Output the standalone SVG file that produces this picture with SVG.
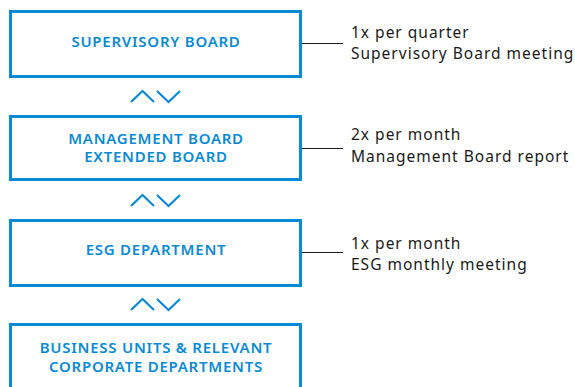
<svg xmlns="http://www.w3.org/2000/svg" width="575" height="387" viewBox="0 0 575 387">
  <style>
    .box { fill: #ffffff; stroke: #0a8ad3; stroke-width: 3; }
    .title { font-family: "Noto Sans", "Liberation Sans", sans-serif; font-size: 15px; font-weight: 600; letter-spacing: 0.75px; fill: #0a8ad3; text-anchor: middle; }
    .note { font-family: "Noto Sans", "Liberation Sans", sans-serif; font-size: 15.5px; letter-spacing: 1px; fill: #1a1a1a; }
    .link { stroke: #1a1a1a; stroke-width: 1.2; fill: none; }
    .chev { stroke: #0a8ad3; stroke-width: 2.2; fill: none; }
  </style>
  <rect width="575" height="387" fill="#ffffff"/>

  <g id="supervisory-board">
    <rect class="box" x="10.5" y="11.5" width="290" height="65"/>
    <text class="title" x="156" y="47">SUPERVISORY BOARD</text>
  </g>

  <g id="management-board">
    <rect class="box" x="10.5" y="116.5" width="290" height="63"/>
    <text class="title" x="156" y="143.5">MANAGEMENT BOARD</text>
    <text class="title" x="156" y="162">EXTENDED BOARD</text>
  </g>

  <g id="esg-department">
    <rect class="box" x="10.5" y="220.5" width="290" height="65"/>
    <text class="title" x="156" y="255">ESG DEPARTMENT</text>
  </g>

  <g id="business-units">
    <rect class="box" x="10.5" y="324.5" width="290" height="80"/>
    <text class="title" x="156" y="353">BUSINESS UNITS &amp; RELEVANT</text>
    <text class="title" x="156" y="372">CORPORATE DEPARTMENTS</text>
  </g>

  <g id="connectors">
    <!-- two-way chevrons between levels -->
    <path class="chev" d="M131 102 L142.5 91 L154 102 M157 91 L168.5 102 L180 91"/>
    <path class="chev" d="M131 206 L142.5 195 L154 206 M157 195 L168.5 206 L180 195"/>
    <path class="chev" d="M131 310 L142.5 299 L154 310 M157 299 L168.5 310 L180 299"/>
    <!-- leader lines to meeting notes -->
    <line class="link" x1="302" y1="43.5" x2="343" y2="43.5"/>
    <line class="link" x1="302" y1="148.5" x2="343" y2="148.5"/>
    <line class="link" x1="302" y1="252.5" x2="343" y2="252.5"/>
  </g>

  <g id="notes">
    <text class="note" x="351" y="37.5">1x per quarter</text>
    <text class="note" x="351" y="58.5">Supervisory Board meeting</text>
    <text class="note" x="351" y="140">2x per month</text>
    <text class="note" x="351" y="161.5">Management Board report</text>
    <text class="note" x="351" y="248.5">1x per month</text>
    <text class="note" x="351" y="269.5">ESG monthly meeting</text>
  </g>
</svg>
